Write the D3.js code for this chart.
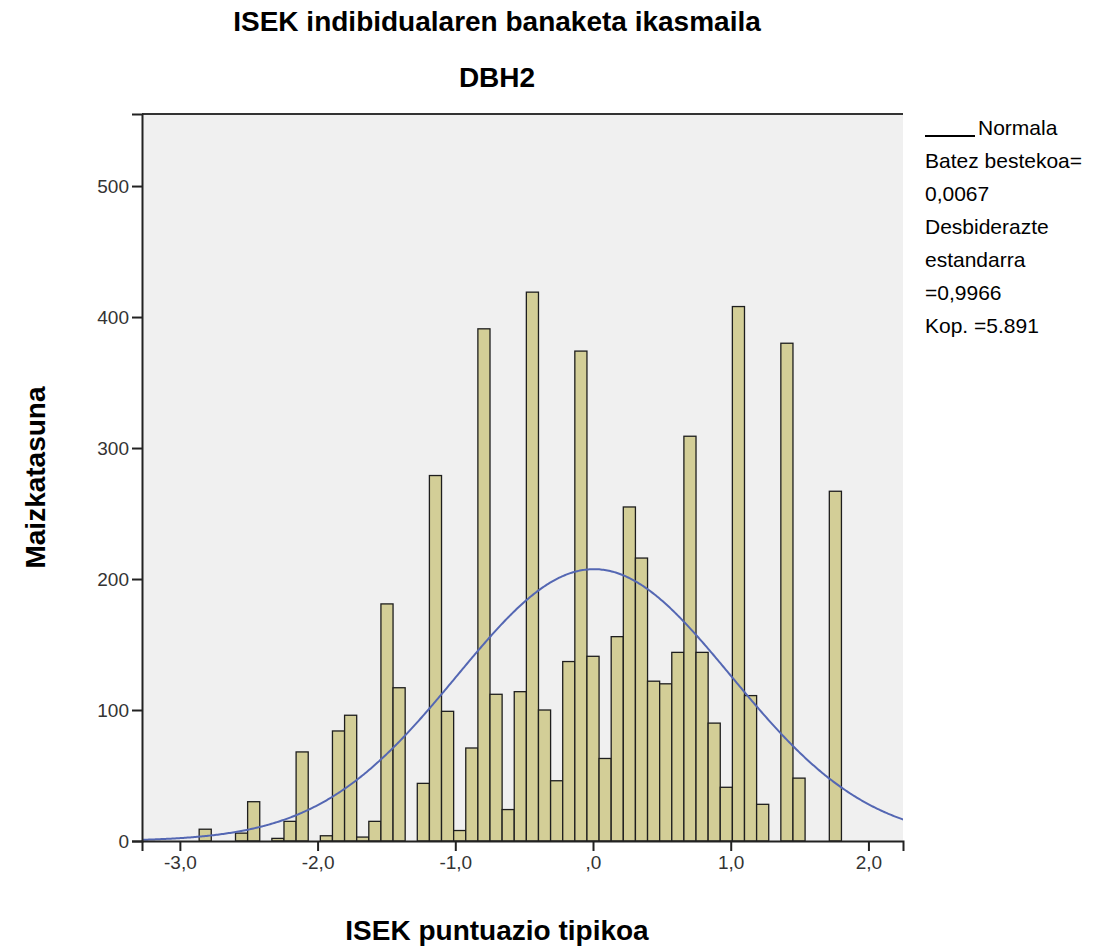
<!DOCTYPE html>
<html>
<head>
<meta charset="utf-8">
<script src="https://cdn.jsdelivr.net/npm/d3@7"></script>
<style>
  html, body { margin: 0; padding: 0; background: #fff; overflow: hidden; }
  svg { display: block; }
  text { font-family: Arial, "Liberation Sans", sans-serif; }
</style>
</head>
<body>
<div id="chart"></div>
<script>
// bin midpoints (ISEK puntuazio tipikoa) and frequencies
const binMid = [
  -2.816, -2.728, -2.640, -2.552, -2.464, -2.376, -2.288, -2.200, -2.112, -2.024,
  -1.936, -1.848, -1.760, -1.672, -1.584, -1.496, -1.408, -1.320, -1.232, -1.144,
  -1.056, -0.968, -0.880, -0.792, -0.704, -0.616, -0.528, -0.440, -0.352, -0.264,
  -0.176, -0.088, 0.000, 0.088, 0.176, 0.264, 0.352, 0.440, 0.528, 0.616,
  0.704, 0.792, 0.880, 0.968, 1.056, 1.144, 1.232, 1.320, 1.408, 1.496,
  1.584, 1.672, 1.760
];
const counts = [
  9, 0, 0, 6, 30, 0, 2, 15, 68, 0,
  4, 84, 96, 3, 15, 181, 117, 0, 44, 279,
  99, 8, 71, 391, 112, 24, 114, 419, 100, 46,
  137, 374, 141, 63, 156, 255, 216, 122, 120, 144,
  309, 144, 90, 41, 408, 111, 28, 0, 380, 48,
  0, 0, 267
];
const binWidth = 0.088;

const xTicks = [-3, -2, -1, 0, 1, 2];
const yTicks = [0, 100, 200, 300, 400, 500];

const mean = 0.0067;
const stdDev = 0.9966;
const total = 5891;

const legendLines = ["Batez bestekoa=", "0,0067", "Desbiderazte", "estandarra", "=0,9966", "Kop. =5.891"];

const width = 1107, height = 952;
const margin = { top: 114, right: 204, bottom: 111, left: 142 };
const innerWidth = width - margin.left - margin.right;
const innerHeight = height - margin.top - margin.bottom;

const svg = d3.select("#chart")
  .append("svg")
  .attr("width", width)
  .attr("height", height);

const xScale = d3.scaleLinear()
  .domain([-3.275, 2.251])
  .range([0, innerWidth]);

const yScale = d3.scaleLinear()
  .domain([0, 555])
  .range([innerHeight, 0]);

const g = svg.append("g")
  .attr("transform", `translate(${margin.left},${margin.top})`);

// plot background
g.append("rect")
  .attr("width", innerWidth)
  .attr("height", innerHeight)
  .attr("fill", "#f0f0f0");

g.append("defs").append("clipPath")
  .attr("id", "clip")
  .append("rect")
  .attr("width", innerWidth)
  .attr("height", innerHeight);

// bars
const bins = binMid.map((m, i) => ({ mid: m, count: counts[i] })).filter(d => d.count > 0);

g.append("g")
  .selectAll("rect")
  .data(bins)
  .join("rect")
  .attr("x", d => xScale(d.mid - binWidth / 2))
  .attr("width", d => xScale(d.mid + binWidth / 2) - xScale(d.mid - binWidth / 2))
  .attr("y", d => yScale(d.count))
  .attr("height", d => yScale(0) - yScale(d.count))
  .attr("fill", "#d3ce97")
  .attr("stroke", "#1e1e1e")
  .attr("stroke-width", 1.3);

// normal curve from the stated mean, sd and N
const normal = x => total * binWidth / (stdDev * Math.sqrt(2 * Math.PI)) *
  Math.exp(-0.5 * Math.pow((x - mean) / stdDev, 2));

const curveX = d3.range(xScale.domain()[0], xScale.domain()[1] + 0.01, 0.01);

g.append("path")
  .datum(curveX)
  .attr("clip-path", "url(#clip)")
  .attr("fill", "none")
  .attr("stroke", "#5467b3")
  .attr("stroke-width", 2)
  .attr("d", d3.line().x(d => xScale(d)).y(d => yScale(normal(d))));

// frame: top line
g.append("line")
  .attr("x1", 0).attr("x2", innerWidth)
  .attr("y1", 0).attr("y2", 0)
  .attr("stroke", "#333")
  .attr("stroke-width", 2);

// axes
const xAxis = g.append("g")
  .attr("transform", `translate(0,${innerHeight})`)
  .call(d3.axisBottom(xScale)
    .tickValues(xTicks)
    .tickSize(10)
    .tickPadding(5)
    .tickFormat(d => d === 0 ? ",0" : d.toFixed(1).replace(".", ",")));

const yAxis = g.append("g")
  .call(d3.axisLeft(yScale)
    .tickValues(yTicks)
    .tickSize(10)
    .tickPadding(3));

[xAxis, yAxis].forEach(ax => {
  ax.attr("font-size", 19).attr("font-family", "Arial, 'Liberation Sans', sans-serif");
  ax.select(".domain").attr("stroke", "#222").attr("stroke-width", 2);
  ax.selectAll(".tick line").attr("stroke", "#222").attr("stroke-width", 2);
  ax.selectAll(".tick text").attr("fill", "#333");
});

// titles
svg.append("text")
  .attr("x", 497)
  .attr("y", 31)
  .attr("text-anchor", "middle")
  .attr("font-size", 28)
  .attr("font-weight", "bold")
  .text("ISEK indibidualaren banaketa ikasmaila");

svg.append("text")
  .attr("x", 497)
  .attr("y", 87)
  .attr("text-anchor", "middle")
  .attr("font-size", 28)
  .attr("font-weight", "bold")
  .text("DBH2");

// X-axis title
svg.append("text")
  .attr("x", 497)
  .attr("y", 940)
  .attr("text-anchor", "middle")
  .attr("font-size", 28)
  .attr("font-weight", "bold")
  .text("ISEK puntuazio tipikoa");

// Y-axis title
svg.append("text")
  .attr("transform", `translate(45,${margin.top + innerHeight / 2}) rotate(-90)`)
  .attr("text-anchor", "middle")
  .attr("font-size", 28)
  .attr("font-weight", "bold")
  .text("Maizkatasuna");

// legend
const legend = svg.append("g").attr("transform", "translate(925,135)");

legend.append("line")
  .attr("x1", 0).attr("x2", 50)
  .attr("y1", 1).attr("y2", 1)
  .attr("stroke", "#000")
  .attr("stroke-width", 2);

legend.append("text")
  .attr("x", 53)
  .attr("y", 0)
  .attr("font-size", 21)
  .text("Normala");

legend.selectAll("text.line")
  .data(legendLines)
  .join("text")
  .attr("class", "line")
  .attr("x", 0)
  .attr("y", (d, i) => 33 * (i + 1))
  .attr("font-size", 21)
  .text(d => d);
</script>
</body>
</html>
